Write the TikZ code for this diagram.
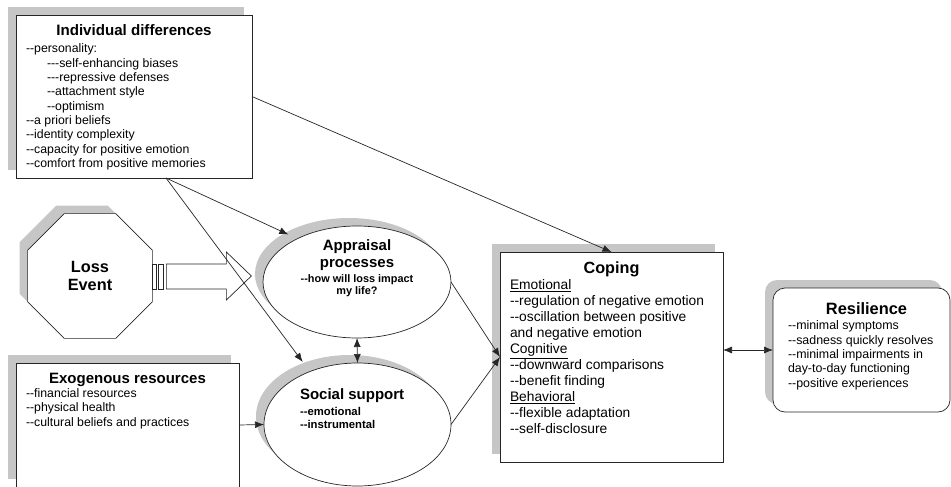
\documentclass[tikz,border=0pt]{standalone}
\usepackage{fontspec}
\setmainfont{Liberation Sans}[Ligatures=TeXOff]
\usepackage{tikz}
\usetikzlibrary{shapes.geometric,shadows,arrows.meta}

\begin{document}
\begin{tikzpicture}[x=1pt,y=-1pt,
    every node/.style={outer sep=0pt, line width=0.7pt, draw=black!85, fill=white},
    shade/.style={drop shadow={shadow xshift=-8pt, shadow yshift=8pt, fill=gray!45, opacity=1}},
    box/.style={rectangle, anchor=north west, inner xsep=10pt, inner ysep=10pt, shade},
    bubble/.style={ellipse, inner sep=0pt, shade},
    link/.style={line width=0.7pt, draw=black!85, -{Latex[length=9pt,width=7pt]}},
    both/.style={link, {Latex[length=9pt,width=7pt]}-{Latex[length=9pt,width=7pt]}}]
            \useasboundingbox (0,0) rectangle (951,487);
            \node[box] (ind) at (16,15) {\parbox[c][143pt][t]{216pt}{{\centering\fontsize{15.1}{17}\bfseries Individual differences\par}\vspace{2.7pt}\fontsize{12.3}{14.3}\selectfont
                --personality:\\
                \hspace*{21pt}---self-enhancing biases\\
                \hspace*{21pt}---repressive defenses\\
                \hspace*{21pt}--attachment style\\
                \hspace*{21pt}--optimism\\
                --a priori beliefs\\
                --identity complexity\\
                --capacity for positive emotion\\
                --comfort from positive memories}};
            \node[regular polygon, regular polygon sides=8, minimum size=135pt, inner sep=0pt, shade, align=center, font=\fontsize{16.3}{18.5}\selectfont\bfseries] (loss) at (90,276) {Loss\\Event};
            \node[box] (exo) at (16,363) {\parbox[c][104pt][t]{203pt}{{\centering\fontsize{15}{17}\bfseries Exogenous resources\par}\fontsize{12.3}{14.3}\selectfont
                --financial resources\\
                --physical health\\
                --cultural beliefs and practices}};
            \node[bubble, minimum width=188pt, minimum height=112pt] (appr) at (357,282) {\makebox[0pt]{\raisebox{11.5pt}[0pt][0pt]{\parbox{140pt}{\centering\bfseries\fontsize{15}{17}\selectfont Appraisal\\processes\par\vspace{3pt}\fontsize{10.9}{12}\selectfont --how will loss impact\\my life?}}}};
            \node[bubble, minimum width=187pt, minimum height=123pt] (soc) at (357.5,424.5) {\makebox[0pt]{\raisebox{13.5pt}[0pt][0pt]{\parbox{115pt}{\bfseries\fontsize{15}{17}\selectfont Social support\par\vspace{3pt}\fontsize{11.3}{13}\selectfont --emotional\\--instrumental}}}};
            \node[box] (cope) at (500,252) {\parbox[c][190pt][t]{203pt}{{\centering\fontsize{16.2}{18}\bfseries Coping\par}\fontsize{13.8}{16}\selectfont
                \underline{Emotional}\\
                --regulation of negative emotion\\
                --oscillation between positive\\
                and negative emotion\\
                \underline{Cognitive}\\
                --downward comparisons\\
                --benefit finding\\
                \underline{Behavioral}\\
                --flexible adaptation\\
                --self-disclosure}};
            \node[box, rounded corners=12pt, inner xsep=15pt, inner ysep=15pt] (res) at (773,288) {\parbox[c][94pt][t]{147pt}{{\centering\fontsize{16.4}{18}\bfseries\hspace*{10pt}Resilience\par}\vspace{0.7pt}\fontsize{12.4}{14.3}\selectfont
                --minimal symptoms\\
                --sadness quickly resolves\\
                --minimal impairments in\\
                day-to-day functioning\\
                --positive experiences}};
            \draw[line width=0.7pt, draw=black!85, fill=white] ([yshift=12pt]loss.east) rectangle ++(4,25);
            \draw[line width=0.7pt, draw=black!85, fill=white] ([xshift=6pt,yshift=12pt]loss.east) rectangle ++(5,25);
            \draw[line width=0.7pt, draw=black!85, fill=white] ([xshift=14pt,yshift=12pt]loss.east) -- ++(60,0) -- ++(0,-12) -- ++(25,24) -- ++(-25,24) -- ++(0,-11) -- ++(-60,0) -- cycle;
            \coordinate (fork) at ([xshift=32pt]ind.south);
            \draw[link] (ind.east) -- (cope.north);
            \draw[link, shorten >=10pt] (fork) -- (appr.144);
            \draw[link, shorten >=12pt] (fork) -- (soc.132);
            \draw[link] (exo.east) -- (soc.west);
            \draw[link] (appr.east) -- (cope.west);
            \draw[link] (soc.east) -- (cope.west);
            \draw[both] (appr.south) -- (soc.north);
            \draw[both] (cope.east |- res.west) -- (res.west);
        \end{tikzpicture}
\end{document}
